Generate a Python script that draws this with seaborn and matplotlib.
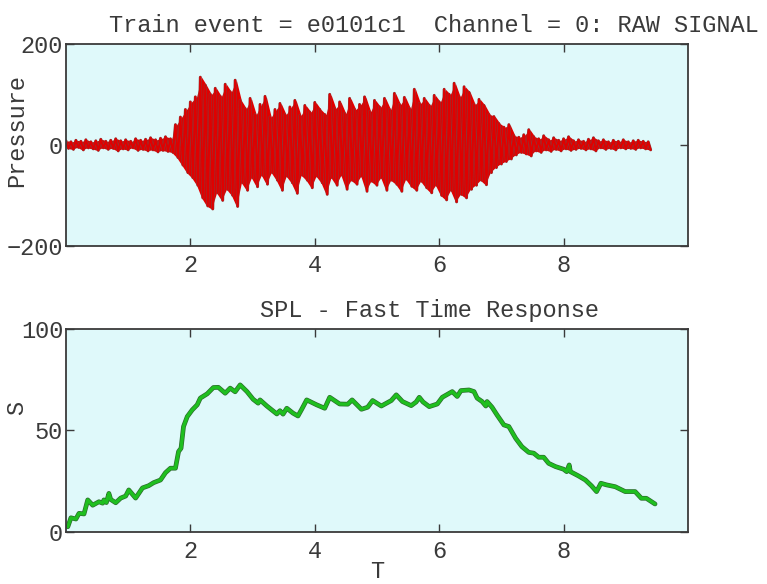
import numpy as np
import pandas as pd
import seaborn as sns
import matplotlib.pyplot as plt
import matplotlib.patheffects as pe

# ==========================================
# DATOS
# ==========================================
# picos positivos de la senal cruda, uno cada 0.08 s desde t = 0
picos_sup = [
    8, 6, 9, 7, 10, 6, 8, 11, 7, 9,
    12, 8, 10, 7, 12, 9, 11, 14, 10, 13,
    16, 12, 40, 55, 70, 85, 95, 134, 118, 100,
    112, 96, 120, 105, 128, 88, 72, 92, 60, 80,
    96, 55, 70, 82, 60, 75, 88, 58, 78, 65,
    84, 70, 60, 100, 72, 85, 62, 92, 70, 80,
    95, 66, 88, 75, 92, 70, 102, 80, 94, 72,
    110, 82, 92, 78, 98, 85, 110, 100, 122, 95,
    115, 104, 80, 90, 78, 60, 56, 42, 35, 40,
    18, 15, 20, 30, 16, 12, 18, 10, 14, 9,
    12, 16, 8, 10, 7, 11, 14, 8, 10, 6,
    9, 7, 10, 6, 8, 9, 7, 6,
]
# picos negativos, desplazados medio paso (0.04 s)
picos_inf = [
    -7, -9, -5, -10, -6, -8, -11, -6, -9, -7,
    -12, -8, -10, -6, -11, -9, -12, -10, -14, -11,
    -13, -15, -25, -40, -55, -65, -80, -105, -121, -127,
    -95, -110, -88, -100, -122, -75, -90, -65, -83, -60,
    -78, -55, -70, -90, -62, -75, -96, -60, -70, -85,
    -62, -75, -98, -65, -80, -60, -88, -70, -78, -62,
    -92, -72, -80, -65, -90, -70, -78, -92, -68, -82,
    -90, -72, -85, -95, -80, -100, -109, -90, -113, -98,
    -105, -88, -80, -70, -79, -55, -45, -38, -33, -28,
    -20, -15, -18, -22, -12, -15, -10, -13, -9, -12,
    -8, -11, -9, -7, -10, -8, -12, -6, -9, -7,
    -10, -6, -8, -7, -9, -6, -8, -10,
]
PASO = 0.08

spl_t = [0.03, 0.08, 0.16, 0.21, 0.29, 0.35, 0.43, 0.53, 0.59, 0.61,
         0.65, 0.69, 0.72, 0.80, 0.88, 0.96, 1.01, 1.12, 1.23, 1.33,
         1.41, 1.52, 1.60, 1.68, 1.76, 1.81, 1.85, 1.89, 1.95, 2.03,
         2.11, 2.16, 2.27, 2.37, 2.45, 2.56, 2.64, 2.72, 2.80, 2.91,
         3.01, 3.09, 3.12, 3.23, 3.39, 3.44, 3.49, 3.55, 3.65, 3.73,
         3.79, 3.87, 4.03, 4.16, 4.24, 4.40, 4.53, 4.60, 4.75, 4.85,
         4.93, 5.07, 5.23, 5.31, 5.41, 5.55, 5.63, 5.68, 5.74, 5.84,
         5.97, 6.05, 6.21, 6.29, 6.35, 6.48, 6.56, 6.61, 6.69, 6.75,
         6.77, 6.85, 6.93, 7.04, 7.12, 7.23, 7.33, 7.44, 7.52, 7.60,
         7.68, 7.76, 7.87, 8.00, 8.05, 8.09, 8.11, 8.24, 8.35, 8.45,
         8.53, 8.60, 8.69, 8.83, 8.99, 9.15, 9.25, 9.33, 9.47]
spl_s = [2.6, 7.0, 6.4, 9.2, 8.9, 15.8, 13.2, 14.9, 14.2, 15.8,
         14.5, 19.0, 16.0, 14.4, 16.7, 17.7, 20.7, 16.7, 21.7, 22.8,
         24.3, 25.6, 29.2, 31.4, 31.4, 39.6, 41.2, 51.9, 56.8, 60.1,
         62.6, 65.9, 68.0, 71.1, 71.2, 68.3, 70.8, 69.0, 72.4, 69.1,
         65.3, 63.4, 65.0, 62.0, 58.1, 59.7, 58.0, 60.9, 58.5, 57.1,
         60.4, 65.0, 62.6, 60.9, 66.3, 63.0, 62.9, 65.0, 60.4, 61.4,
         64.7, 62.0, 64.7, 67.5, 64.2, 62.2, 64.0, 66.3, 64.0, 61.7,
         63.0, 66.3, 69.1, 66.7, 69.6, 69.9, 69.1, 65.9, 64.2, 62.0,
         64.2, 61.4, 57.6, 52.7, 51.9, 46.1, 42.0, 39.2, 38.8, 36.8,
         36.8, 33.8, 32.2, 30.9, 29.7, 33.0, 29.7, 27.6, 25.6, 22.7,
         19.9, 24.0, 23.2, 22.3, 19.9, 19.9, 16.6, 16.6, 13.8]

xticks = [2, 4, 6, 8]
yticks_top = [-200, 0, 200]
yticks_bot = [0, 50, 100]

TITULO_1 = "Train event = e0101c1  Channel = 0: RAW SIGNAL"
TITULO_2 = "SPL - Fast Time Response"

# ==========================================
# PREPARAR SENAL
# ==========================================
n = min(len(picos_sup), len(picos_inf))
t_sup = np.arange(n) * PASO
t = np.empty(2 * n)
p = np.empty(2 * n)
t[0::2] = t_sup
t[1::2] = t_sup + PASO / 2
p[0::2] = picos_sup[:n]
p[1::2] = picos_inf[:n]
df_raw = pd.DataFrame({"T": t, "Pressure": p})
df_spl = pd.DataFrame({"T": spl_t, "S": spl_s})

# ==========================================
# ESTILO
# ==========================================
sns.set_style("ticks")
plt.rcParams["font.family"] = ["Liberation Mono", "DejaVu Sans Mono"]
FS = 17
FONDO = "#dff9fa"
EJE = "#3a3a3a"
TXT = "#3a3a3a"
ROJO = "#e00000"

fig = plt.figure(figsize=(7.67, 5.84), dpi=100)
ax1 = fig.add_axes([0.086, 0.579, 0.811, 0.346])
ax2 = fig.add_axes([0.086, 0.089, 0.811, 0.348])

# banda solida entre picos + trazo con borde oscuro
ax1.fill_between(t_sup + PASO / 4, picos_sup[:n], picos_inf[:n], color=ROJO, lw=0)
sns.lineplot(data=df_raw, x="T", y="Pressure", ax=ax1, color=ROJO,
             lw=1.4, estimator=None, sort=False,
             path_effects=[pe.Stroke(linewidth=2.1, foreground="#8a3a3a"), pe.Normal()])
sns.lineplot(data=df_spl, x="T", y="S", ax=ax2, color="#1fbf1f",
             lw=2.4, estimator=None, sort=False,
             path_effects=[pe.Stroke(linewidth=3.4, foreground="#2d6b2d"), pe.Normal()])

for ax, yt, ylim in [(ax1, yticks_top, (-200, 200)), (ax2, yticks_bot, (0, 100))]:
    ax.set_facecolor(FONDO)
    ax.set_xlim(0, 10)
    ax.set_ylim(*ylim)
    ax.set_xticks(xticks)
    ax.set_yticks(yt)
    ax.tick_params(direction="in", top=True, right=True, length=6, width=1,
                   color=EJE, labelsize=FS, pad=2, labelcolor=TXT)
    ax.tick_params(axis="x", pad=6)
    for s in ax.spines.values():
        s.set_color(EJE)
        s.set_linewidth(1.3)
    ax.grid(False)

ax1.set_xlabel("")
ax1.set_ylabel("Pressure", fontsize=FS, color=TXT)
ax1.yaxis.set_label_coords(-0.061, 0.57)
ax2.set_ylabel("S", fontsize=FS, color=TXT)
ax2.yaxis.set_label_coords(-0.061, 0.61)
ax2.set_xlabel("T", fontsize=FS, color=TXT)
ax2.xaxis.set_label_coords(0.5, -0.14)

ax1.annotate(TITULO_1, xy=(0.592, 1.0), xycoords="axes fraction",
             xytext=(0, 13), textcoords="offset points",
             ha="center", va="center", fontsize=FS, color=TXT)
ax2.annotate(TITULO_2, xy=(0.585, 1.0), xycoords="axes fraction",
             xytext=(0, 13), textcoords="offset points",
             ha="center", va="center", fontsize=FS, color=TXT)

fig.savefig("out.png", dpi=100, facecolor="white")
